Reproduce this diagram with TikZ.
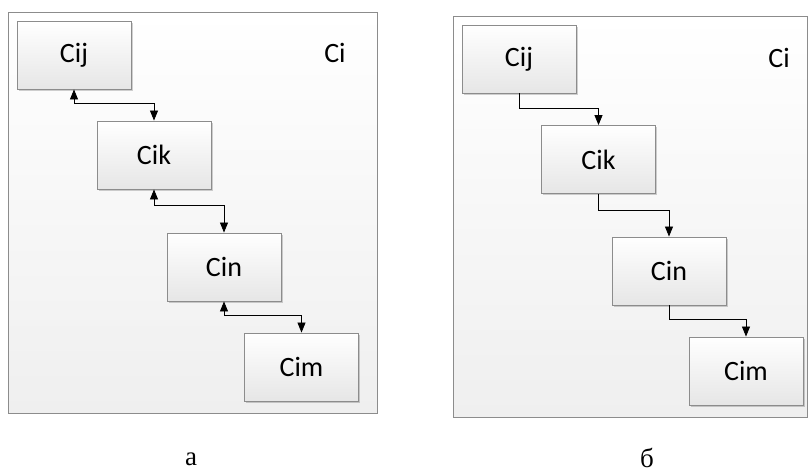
\documentclass[tikz,border=0pt]{standalone}
\usepackage{fontspec}
\setmainfont{Liberation Serif}
\newfontfamily\boxfont{Carlito}
\usetikzlibrary{arrows.meta,shadows}
\definecolor{edgegray}{HTML}{8C8C8C}
\definecolor{panelbot}{HTML}{EFEFEF}
\definecolor{boxbot}{HTML}{E6E6E6}
\tikzset{
  panel/.style={draw=edgegray, line width=0.9pt, top color=white, bottom color=panelbot},
  cbox/.style={draw=edgegray, line width=0.9pt, top color=white, bottom color=boxbot,
    minimum width=114pt, minimum height=68pt, inner sep=0pt, font=\boxfont\fontsize{28}{32}\selectfont,
    drop shadow={shadow xshift=1.5pt, shadow yshift=-1.5pt, fill=black, opacity=0.18}},
  citext/.style={font=\boxfont\fontsize{28}{32}\selectfont, inner sep=0pt},
  caption/.style={font=\fontsize{27}{30}\selectfont, inner sep=0pt},
  link/.style={draw=black, line width=0.8pt},
  tip/.style={-{Triangle[length=10pt,width=8pt]}},
  bitip/.style={{Triangle[length=10pt,width=8pt]}-{Triangle[length=10pt,width=8pt]}}
}
\begin{document}
\begin{tikzpicture}[x=1pt,y=-1pt]
\useasboundingbox (0,0) rectangle (809,472);
\fill[white] (0,0) rectangle (809,472);
% panel a
\path[panel] (8,12) rectangle (377,413);
\node[cbox] (aij) at (74,55) {Cij};
\node[cbox] (aik) at (154,155) {Cik};
\node[cbox] (ain) at (224,267) {Cin};
\node[cbox] (aim) at (301.5,367) {Cim};
\node[citext] (aci) at (335,53) {Ci};
\draw[link,bitip] (aij.south) -- ++(0,14) -| (aik.north);
\draw[link,bitip] (aik.south) -- ++(0,16) -| (ain.north);
\draw[link,bitip] (ain.south) -- ++(0,14) -| (aim.north);
\node[caption] (alab) at (191,459) {а};
% panel b
\path[panel] (453,16) rectangle (807.5,417);
\node[cbox] (bij) at (519,59) {Cij};
\node[cbox] (bik) at (598.5,159.5) {Cik};
\node[cbox] (bin) at (669,271) {Cin};
\node[cbox] (bim) at (746,371) {Cim};
\node[citext] (bci) at (779,58) {Ci};
\draw[link,tip] (bij.south) -- ++(0,15) -| (bik.north);
\draw[link,tip] (bik.south) -- ++(0,16) -| (bin.north);
\draw[link,tip] (bin.south) -- ++(0,14) -| (bim.north);
\node[caption] (blab) at (647,458) {б};
\end{tikzpicture}
\end{document}
